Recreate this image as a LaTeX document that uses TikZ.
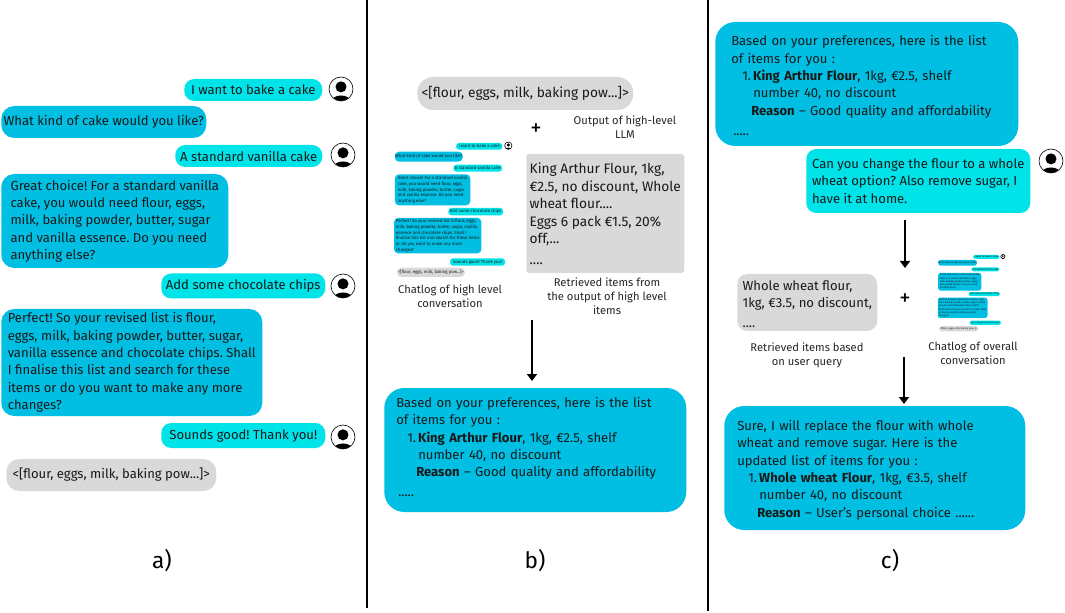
\documentclass[tikz,border=0pt]{standalone}
\usepackage{fontspec}
\setmainfont{Fira Sans}
\usetikzlibrary{arrows.meta}
\frenchspacing

\definecolor{botblue}{HTML}{00BFE3}
\definecolor{usercyan}{HTML}{00E3E9}
\definecolor{itemgrey}{HTML}{D9D9D9}

\newlength{\px}
\setlength{\px}{0.75pt}

\tikzset{
    bubble/.style={anchor=west, inner xsep=0pt, inner ysep=0pt, rounded corners=13*\px, text=black!90,
        font=\fontsize{9.8pt}{13pt}\selectfont},
    botbubble/.style={bubble, fill=botblue, align=left},
    userbubble/.style={bubble, fill=usercyan, align=center, rounded corners=10*\px},
    greybubble/.style={bubble, fill=itemgrey, align=left},
    caption/.style={align=center, text=black!85, font=\fontsize{8.4pt}{10.5pt}\selectfont},
    panellabel/.style={font=\fontsize{17pt}{20pt}\selectfont},
    plussign/.style={font=\fontsize{17pt}{17pt}\selectfont},
    flowarrow/.style={line width=1.5*\px, -{Triangle[length=5.25pt,width=7.5pt]}},
    divider/.style={line width=1.6*\px}
}

% head and shoulders in a ring: x, y, radius
\newcommand{\usericon}[3]{
    \begin{scope}[shift={(#1,#2)},scale=#3]
        \begin{scope}
            \clip (0,0) circle (1);
            \fill[white] (0,0) circle (1);
            \fill (0,-0.18) circle (0.46);
            \fill (0,1.02) ellipse (0.78 and 0.48);
        \end{scope}
        \draw[line width=0.6*\px] (0,0) circle (1);
    \end{scope}
}

% the small copy of a conversation: x, y, scale, name prefix
\newcommand{\chatlog}[4]{
    \begin{scope}[shift={(#1,#2)},scale=#3,transform shape,name prefix=#4-]
        \node[userbubble, rounded corners=#3*9*\px, minimum width=139*\px, minimum height=20*\px] (user one) at (186,10) {I want to bake a cake};
        \node[botbubble, rounded corners=#3*13*\px, minimum width=204*\px, minimum height=30*\px] (bot one) at (2,41) {What kind of cake would you like?};
        \node[userbubble, rounded corners=#3*9*\px, minimum width=146*\px, minimum height=21*\px] (user two) at (178,75.5) {A standard vanilla cake};
        \node[botbubble, rounded corners=#3*13*\px, minimum width=227*\px, minimum height=93*\px] (bot two) at (2,140.5) {Great choice! For a standard vanilla\\cake, you would need flour, eggs,\\milk, baking powder, butter, sugar\\and vanilla essence. Do you need\\anything else?};
        \node[userbubble, rounded corners=#3*9*\px, minimum width=164*\px, minimum height=22*\px] (user three) at (163,206) {Add some chocolate chips};
        \node[botbubble, rounded corners=#3*13*\px, minimum width=262*\px, minimum height=107*\px] (bot three) at (0,278) {Perfect! So your revised list is flour, eggs,\\milk, baking powder, butter, sugar, vanilla\\essence and chocolate chips. Shall I\\finalise this list and search for these items\\or do you want to make any more\\changes?};
        \node[userbubble, rounded corners=#3*9*\px, minimum width=165*\px, minimum height=22*\px] (user four) at (168,357) {Sounds good! Thank you!};
        \node[greybubble, rounded corners=#3*13*\px, minimum width=203*\px, minimum height=28*\px] (list) at (9,388) {<[flour, eggs, milk, baking pow...]>};
    \end{scope}
    \usericon{#1+343*#3}{#2+8*#3}{11*#3}
}

\begin{document}
\begin{tikzpicture}[x=\px,y=-\px]
    \useasboundingbox (0,0) rectangle (1065,613);

    % Panel dividers
    \coordinate (left top) at (367,0);
    \coordinate (left bottom) at (367,608);
    \coordinate (right top) at (708,0);
    \coordinate (right bottom) at (708,611);
    \draw[divider] (left top) -- (left bottom);%
    \draw[divider] (right top) -- (right bottom);%

    % Panel a conversation
    \node[userbubble, minimum width=138*\px, minimum height=22*\px] (a user one) at (184,90) {I want to bake a cake};%
    \node[botbubble, minimum width=205*\px, minimum height=32*\px] (a bot one) at (1,122) {What kind of cake would you like?};%
    \node[userbubble, minimum width=147*\px, minimum height=22*\px] (a user two) at (175,156) {A standard vanilla cake};%
    \node[botbubble, minimum width=227*\px, minimum height=94*\px] (a bot two) at (1,221) {Great choice! For a standard vanilla\\cake, you would need flour, eggs,\\milk, baking powder, butter, sugar\\and vanilla essence. Do you need\\anything else?};%
    \node[userbubble, minimum width=164*\px, minimum height=25*\px] (a user three) at (161,286) {Add some chocolate chips};%
    \node[botbubble, minimum width=261*\px, minimum height=107*\px] (a bot three) at (1,362.5) {Perfect! So your revised list is flour,\\eggs, milk, baking powder, butter, sugar,\\vanilla essence and chocolate chips. Shall\\I finalise this list and search for these\\items or do you want to make any more\\changes?};%
    \node[userbubble, minimum width=164*\px, minimum height=25*\px] (a user four) at (161,435.5) {Sounds good! Thank you!};%
    \node[greybubble, minimum width=210*\px, minimum height=32*\px] (a list) at (6,475) {<[flour, eggs, milk, baking pow...]>};%

    % Marking users of panel a
    \usericon{341}{89}{12}%
    \usericon{343}{155}{12}%
    \usericon{343}{286}{12}%
    \usericon{343}{437}{12}%

    \node[panellabel] (a label) at (162,561) {a)};%

    % Panel b inputs
    \node[greybubble, rounded corners=16*\px, minimum width=216*\px, minimum height=33*\px, font=\fontsize{10.3pt}{13pt}\selectfont] (b list) at (417,93.5) {<[flour, eggs, milk, baking pow...]>};%
    \node[plussign] (b plus) at (536,130) {+};%
    \node[caption] (b output) at (625,127) {Output of high-level\\LLM};%
    \chatlog{394}{143}{0.3333}{b chat}%
    \node[caption] (b chat caption) at (450,296) {Chatlog of high level\\conversation};%
    \node[greybubble, rounded corners=3*\px, minimum width=158*\px, minimum height=119*\px, font=\fontsize{10.3pt}{13.2pt}\selectfont] (b items) at (526,213.5) {King Arthur Flour, 1kg,\\€2.5, no discount, Whole\\wheat flour....\\Eggs 6 pack €1.5, 20\%\\off,...\\[2pt]....};%
    \node[caption] (b items caption) at (607,296) {Retrieved items from\\the output of high level\\items};%

    % Drawing arrow to the answer of panel b
    \coordinate (b start) at (532,320);
    \coordinate (b end) at (532,381);
    \draw[flowarrow] (b start) -- (b end);%

    \node[botbubble, rounded corners=20*\px, inner xsep=12*\px, text width=278*\px, minimum height=124*\px] (b answer) at (384,450) {Based on your preferences, here is the list\\of items for you :\\\hspace*{11\px}1.\,\textbf{King Arthur Flour}, 1kg, €2.5, shelf\\\hspace*{22\px}number 40, no discount\\\hspace*{20\px}\textbf{Reason} -- Good quality and affordability\\[2pt]\hspace*{2\px}.....\rule[-4.5pt]{0pt}{4.5pt}};%
    \node[panellabel] (b label) at (535,561) {b)};%

    % Panel c conversation
    \node[botbubble, rounded corners=20*\px, inner xsep=16*\px, text width=271*\px, minimum height=124*\px] (c answer one) at (715,84) {\rule{0pt}{10pt}Based on your preferences, here is the list\\of items for you :\\\hspace*{11\px}1.\,\textbf{King Arthur Flour}, 1kg, €2.5, shelf\\\hspace*{22\px}number 40, no discount\\\hspace*{20\px}\textbf{Reason} -- Good quality and affordability\\[2pt]\hspace*{2\px}.....};%
    \node[userbubble, align=left, minimum width=224*\px, minimum height=64*\px] (c user) at (806,181) {Can you change the flour to a whole\\wheat option? Also remove sugar, I\\have it at home.};%
    \usericon{1051}{161}{12}%

    % Drawing arrow to the retrieved items
    \coordinate (c start) at (905,220);
    \coordinate (c end) at (905,268);
    \draw[flowarrow] (c start) -- (c end);%

    % Panel c inputs
    \node[greybubble, rounded corners=10*\px, minimum width=140*\px, minimum height=57*\px] (c items) at (737,302.5) {\rule{0pt}{10pt}Whole wheat flour,\\1kg, €3.5, no discount,\\[2pt]....};%
    \node[plussign] (c plus) at (905,300) {+};%
    \chatlog{937.7}{255}{0.19}{c chat}%
    \node[caption] (c items caption) at (807,355) {Retrieved items based\\on user query};%
    \node[caption] (c chat caption) at (973,353) {Chatlog of overall\\conversation};%

    % Drawing arrow to the answer of panel c
    \coordinate (d start) at (904,357);
    \coordinate (d end) at (904,404);
    \draw[flowarrow] (d start) -- (d end);%

    \node[botbubble, rounded corners=20*\px, inner xsep=13*\px, text width=275*\px, minimum height=124*\px] (c answer two) at (724,468) {\rule{0pt}{11pt}Sure, I will replace the flour with whole\\wheat and remove sugar. Here is the\\updated list of items for you :\\\hspace*{11\px}1.\,\textbf{Whole wheat Flour}, 1kg, €3.5, shelf\\\hspace*{22\px}number 40, no discount\\\hspace*{20\px}\textbf{Reason} -- User's personal choice ......};%
    \node[panellabel] (c label) at (890,561) {c)};%
\end{tikzpicture}
\end{document}
